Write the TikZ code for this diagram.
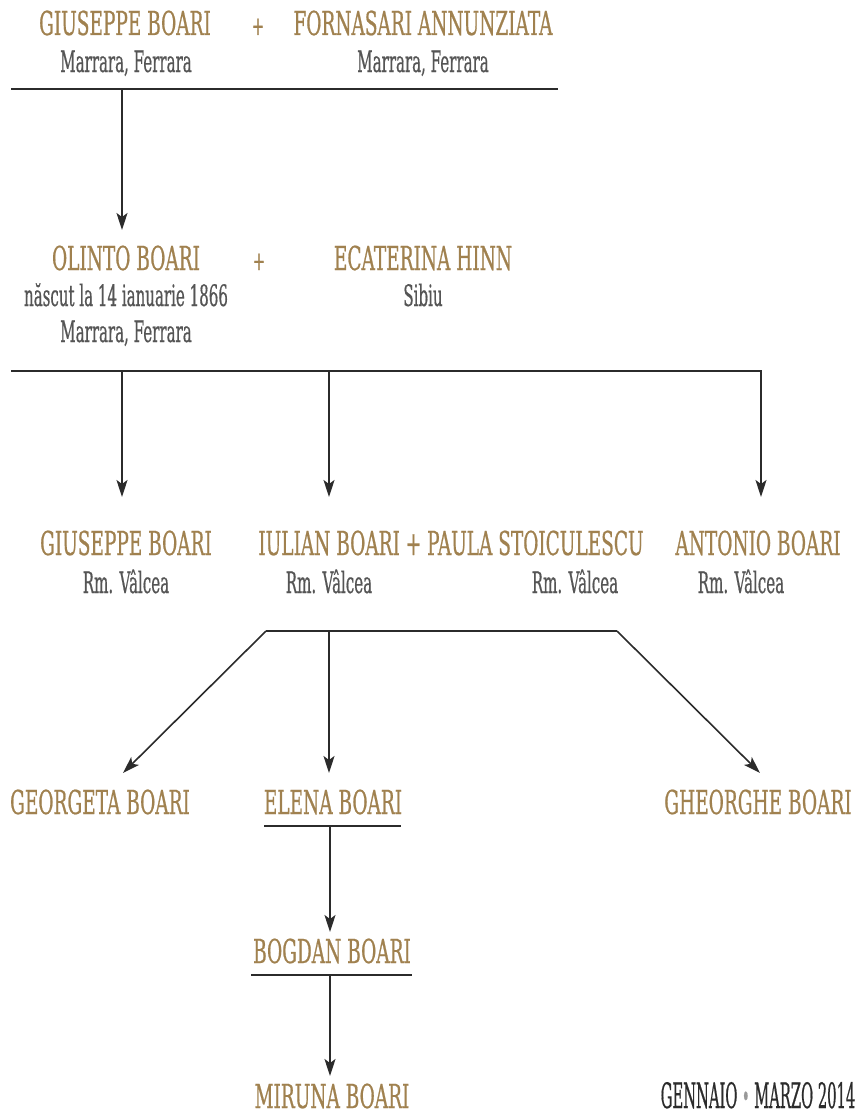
\documentclass[tikz,border=0pt]{standalone}
\usepackage{fontspec}
\usetikzlibrary{arrows.meta}
\newfontfamily\goldfont{DejaVu Serif}[FakeStretch=0.56,FakeBold=0.6]
\newfontfamily\grayfont{DejaVu Serif}[FakeStretch=0.51,FakeBold=0.5]
\newfontfamily\footfont{DejaVu Serif}[FakeStretch=0.42,FakeBold=0.5]
\definecolor{gold}{HTML}{A0814F}
\definecolor{txtgray}{HTML}{555555}
\definecolor{linegray}{HTML}{2B2B2B}
\tikzset{
  person/.style={inner sep=0pt, anchor=base, text=gold, font=\goldfont\fontsize{33}{33}\selectfont},
  place/.style={inner sep=0pt, anchor=base, text=txtgray, font=\grayfont\fontsize{29.5}{29.5}\selectfont},
  plus/.style={inner sep=0pt, anchor=base, text=gold, font=\goldfont\fontsize{26}{26}\selectfont},
  bar/.style={draw=linegray, line width=2pt},
  arr/.style={draw=linegray, line width=1.6pt, -{Stealth[length=17pt,width=11pt,inset=4pt]}},
  footer/.style={inner sep=0pt, anchor=base, text=linegray, font=\footfont\fontsize{35}{35}\selectfont}
}
\begin{document}
\begin{tikzpicture}[x=1pt,y=-1pt]
\useasboundingbox (0,0) rectangle (867,1116);
% row 1
\node[person] (gb1) at (125,35) {GIUSEPPE BOARI};
\node[plus] (p1) at (258,35) {+};
\node[person] (fa) at (423,35) {FORNASARI ANNUNZIATA};
\node[place] (gb1p) at (126,72) {Marrara, Ferrara};
\node[place] (fap) at (423,72) {Marrara, Ferrara};
\coordinate (l1a) at (11,89);
\coordinate (l1b) at (558,89);
\coordinate (j1) at (122,89);
\draw[bar] (l1a) -- (l1b);
% row 2
\node[person] (ob) at (126,270) {OLINTO BOARI};
\node[plus] (p2) at (259,270) {+};
\node[person] (eh) at (423,270) {ECATERINA HINN};
\node[place] (obp1) at (126,306) {născut la 14 ianuarie 1866};
\node[place] (obp2) at (126,342) {Marrara, Ferrara};
\node[place] (ehp) at (423,306) {Sibiu};
\draw[arr] (j1) -- (j1 |- 0,230);
\coordinate (l2a) at (11,371);
\coordinate (l2b) at (762,371);
\draw[bar] (l2a) -- (l2b);
% row 3
\node[person] (gb2) at (126,555) {GIUSEPPE BOARI};
\node[person] (ib) at (451,555) {IULIAN BOARI + PAULA STOICULESCU};
\node[person] (ab) at (758,555) {ANTONIO BOARI};
\node[place] (gb2p) at (126,593) {Rm. Vâlcea};
\node[place] (ibp) at (329,593) {Rm. Vâlcea};
\node[place] (psp) at (575,593) {Rm. Vâlcea};
\node[place] (abp) at (741,593) {Rm. Vâlcea};
\coordinate (j2a) at (122,371);
\coordinate (j2b) at (329,371);
\coordinate (j2c) at (761,371);
\draw[arr] (j2a) -- (122,497);
\draw[arr] (j2b) -- (329,497);
\draw[arr] (j2c) -- (761,497);
\coordinate (l3a) at (266,631);
\coordinate (l3b) at (617,631);
\coordinate (j3) at (329,631);
\draw[bar] (l3a) -- (l3b);
% row 4
\node[person] (geo) at (100,814) {GEORGETA BOARI};
\node[person] (el) at (333,814) {ELENA BOARI};
\node[person] (ghe) at (758,814) {GHEORGHE BOARI};
\draw[arr] (l3a) -- (123,773);
\draw[arr] (j3) -- (329,773);
\draw[arr] (l3b) -- (760,773);
\coordinate (u1a) at (264,826);
\coordinate (u1b) at (401,826);
\coordinate (j4) at (330,826);
\draw[bar] (u1a) -- (u1b);
\node[person] (bog) at (332,963) {BOGDAN BOARI};
\draw[arr] (j4) -- (330,932);
\coordinate (u2a) at (251,975);
\coordinate (u2b) at (412,975);
\coordinate (j5) at (330,975);
\draw[bar] (u2a) -- (u2b);
\node[person] (mir) at (332,1108) {MIRUNA BOARI};
\draw[arr] (j5) -- (330,1076);
\node[footer] (date) at (758,1108) {GENNAIO {\color{txtgray!60}\fontsize{30}{30}\selectfont\raisebox{1pt}{•}} MARZO 2014};
\end{tikzpicture}
\end{document}
